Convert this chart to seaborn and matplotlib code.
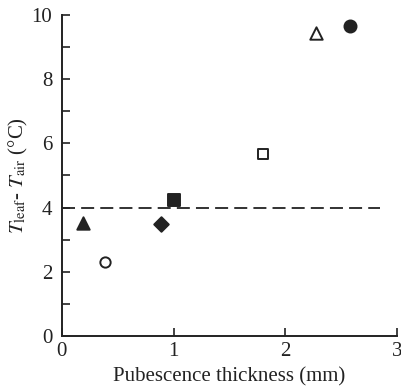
import matplotlib
matplotlib.use("Agg")
import matplotlib.pyplot as plt
import seaborn as sns
import pandas as pd
from matplotlib.ticker import MultipleLocator

# Data
thickness = [0.19, 0.39, 0.89, 1.00, 1.80, 2.27, 2.58]
delta_t = [3.53, 2.30, 3.50, 4.22, 5.67, 9.43, 9.64]
markers = ["^", "o", "D", "s", "s", "^", "o"]
filled = [True, False, True, True, False, False, True]
ref_level = 4.0
ref_x = [0.0, 2.85]

df = pd.DataFrame({"x": thickness, "y": delta_t, "m": markers, "f": filled})

sns.set_style("ticks")
plt.rcParams["font.family"] = ["Liberation Serif", "DejaVu Serif"]
plt.rcParams["mathtext.fontset"] = "stix"

ink = "#222222"
fig = plt.figure(figsize=(4.02, 3.86), dpi=100)
ax = fig.add_axes([0.154, 0.1295, 0.834, 0.832])

# dashed reference line
sns.lineplot(x=ref_x, y=[ref_level, ref_level], ax=ax, color=ink,
             linestyle=(0, (7.2, 3.4)), linewidth=1.3)

sizes = {"^": 80, "o": 75, "D": 55, "s": 70}
for _, r in df.iterrows():
    s = sizes[r.m]
    if r.m == "o" and not r.f:
        s = 55
    if r.m == "s" and not r.f:
        s = 55
    sns.scatterplot(x=[r.x], y=[r.y], ax=ax, marker=r.m, s=s,
                    color=ink if r.f else "white", edgecolor=ink,
                    linewidth=1.4, clip_on=False, zorder=3)

ax.set_xlim(0, 3)
ax.set_ylim(0, 10)
ax.xaxis.set_major_locator(MultipleLocator(1))
ax.yaxis.set_major_locator(MultipleLocator(2))
ax.yaxis.set_minor_locator(MultipleLocator(1))
ax.tick_params(axis="both", which="both", direction="in", length=6, width=1.2,
               color=ink, labelsize=15, labelcolor=ink)
ax.tick_params(axis="y", which="both", left=True, pad=7)
ax.tick_params(axis="x", pad=4)
sns.despine(ax=ax)
for sp in ["left", "bottom"]:
    ax.spines[sp].set_linewidth(1.4)
    ax.spines[sp].set_color(ink)

ax.set_xlabel("Pubescence thickness (mm)", fontsize=15, color=ink, labelpad=5)
ax.set_ylabel(r"$T_{\rm leaf}$- $T_{\rm air}$ (°C)", fontsize=15, color=ink, labelpad=1)

fig.savefig("out.png", dpi=100)
